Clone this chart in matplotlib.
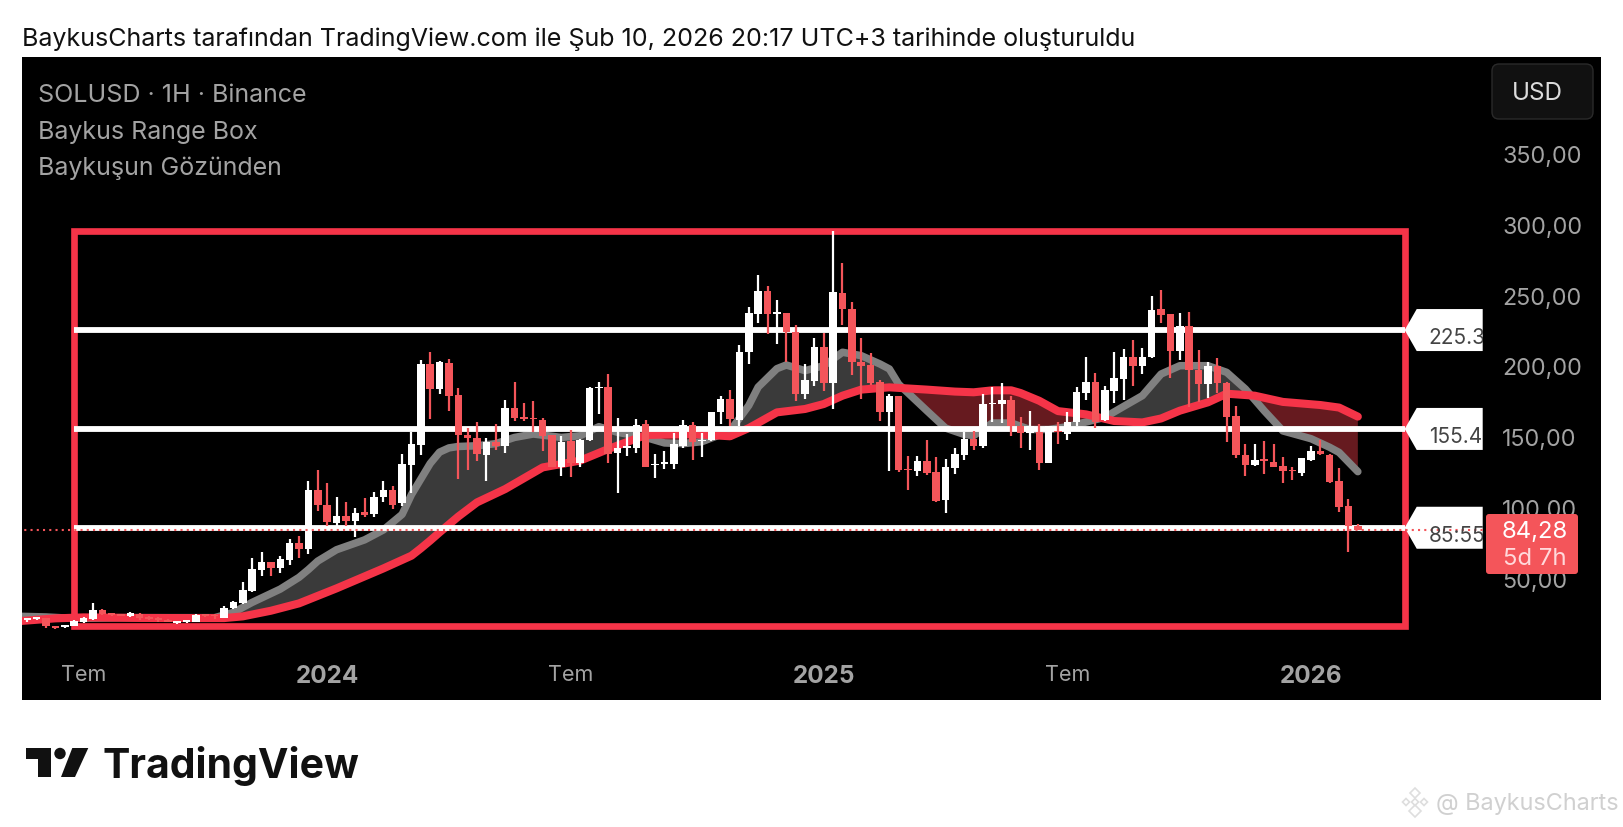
import numpy as np
import matplotlib
matplotlib.use("Agg")
import matplotlib.pyplot as plt
from matplotlib.patches import Polygon, Rectangle, FancyBboxPatch, Circle
from matplotlib.transforms import Affine2D, Bbox, ScaledTranslation, TransformedBbox

plt.rcParams['font.family'] = ['Inter', 'DejaVu Sans']

# weekly candles
opens = [20.3, 21.2, 22.0, 15.8, 15.4, 16.3, 19.1, 21.0, 27.1, 25.0, 24.3, 22.9, 24.3, 22.4, 21.5, 20.5, 18.4, 18.6, 19.1, 24.3,
         23.8, 21.7, 28.5, 32.3, 40.8, 55.9, 61.1, 57.3, 62.9, 74.5, 70.5, 112.4, 101.8, 88.9, 93.8, 90.5, 96.4, 95.0, 107.0, 112.0,
         103.0, 129.9, 144.0, 201.5, 183.6, 202.0, 179.4, 151.1, 149.0, 137.2, 146.1, 143.1, 169.9, 163.6, 163.3, 161.9, 151.1, 128.5, 146.6, 131.3,
         147.3, 184.1, 185.0, 138.4, 142.1, 142.1, 158.6, 129.6, 130.8, 130.8, 143.5, 158.1, 146.8, 147.3, 167.1, 176.5, 161.9, 209.6, 236.9, 252.9,
         236.9, 237.4, 223.7, 179.9, 189.3, 213.3, 187.9, 251.5, 240.2, 203.0, 200.8, 188.4, 167.6, 178.9, 127.1, 125.7, 132.8, 124.7, 105.4, 127.8,
         137.0, 148.3, 143.6, 172.8, 173.0, 175.9, 157.7, 152.5, 152.9, 131.3, 153.9, 151.8, 160.5, 180.8, 188.8, 161.4, 182.4, 190.9, 206.0, 200.1,
         206.0, 239.9, 236.4, 210.4, 228.3, 196.8, 187.1, 199.6, 187.8, 164.3, 136.9, 130.1, 133.9, 132.2, 129.4, 126.6, 124.4, 133.4, 139.5, 136.9,
         118.6, 100.7, 87.0]
highs = [21.5, 22.2, 22.0, 15.8, 17.0, 20.5, 22.4, 32.3, 28.1, 25.3, 24.6, 25.7, 25.2, 22.9, 22.4, 21.0, 19.4, 20.6, 24.3, 24.8,
         24.3, 30.4, 33.7, 46.9, 63.9, 68.1, 61.5, 65.8, 77.6, 79.4, 118.3, 126.1, 117.1, 107.2, 103.5, 99.2, 106.3, 110.5, 118.6, 114.8,
         137.4, 153.4, 204.3, 210.0, 203.4, 204.8, 184.5, 155.8, 160.0, 148.7, 158.6, 175.6, 188.8, 173.7, 175.1, 162.9, 151.1, 150.6, 154.8, 148.3,
         185.0, 188.3, 194.0, 163.3, 151.5, 162.4, 161.9, 137.4, 139.8, 152.5, 161.9, 160.0, 152.5, 167.6, 178.9, 183.1, 214.7, 241.6, 264.2, 256.7,
         246.8, 237.4, 228.9, 201.5, 219.5, 223.2, 295.3, 272.7, 244.9, 219.9, 209.1, 189.8, 180.3, 178.9, 136.5, 136.0, 147.4, 135.6, 134.2, 142.2,
         153.0, 153.9, 180.1, 184.8, 187.9, 178.9, 163.9, 168.3, 158.8, 157.7, 160.0, 167.6, 184.8, 206.0, 194.9, 185.9, 209.5, 211.9, 218.0, 212.8,
         249.6, 253.8, 236.4, 237.3, 237.8, 210.9, 202.9, 205.3, 188.8, 171.8, 144.5, 144.5, 146.8, 144.9, 135.5, 128.5, 135.1, 143.1, 147.8, 137.4,
         128.0, 105.9, 88.4]
lows = [18.6, 20.5, 14.4, 13.9, 15.0, 16.0, 18.2, 20.5, 23.8, 23.5, 23.0, 22.2, 20.5, 20.5, 19.1, 18.6, 17.5, 18.2, 18.6, 22.4,
        21.0, 21.5, 28.0, 31.8, 39.9, 51.6, 51.6, 53.5, 59.2, 63.9, 67.2, 97.6, 87.0, 85.8, 86.5, 79.2, 93.1, 93.1, 103.5, 98.8,
        100.7, 110.1, 136.9, 162.4, 179.8, 168.0, 120.0, 126.6, 132.7, 118.8, 140.2, 138.4, 161.0, 161.0, 153.4, 139.8, 128.5, 122.3, 121.4, 128.5,
        146.8, 166.2, 131.3, 110.1, 136.5, 138.4, 128.5, 120.5, 127.0, 127.0, 142.1, 133.6, 135.5, 146.8, 159.1, 157.7, 157.7, 201.3, 230.3, 222.3,
        215.2, 203.0, 175.4, 176.6, 186.0, 182.5, 169.5, 228.9, 193.5, 176.6, 186.5, 161.0, 125.9, 125.2, 112.5, 121.9, 122.9, 104.0, 96.0, 123.8,
        133.7, 140.8, 141.7, 160.1, 159.6, 150.7, 141.7, 140.7, 126.6, 131.3, 144.9, 147.8, 157.7, 176.0, 156.3, 161.2, 173.7, 176.0, 185.9, 194.4,
        205.5, 230.2, 191.6, 204.3, 170.6, 174.6, 177.5, 180.8, 146.4, 135.1, 121.9, 128.9, 123.5, 128.2, 117.1, 119.5, 122.3, 132.9, 136.9, 117.1,
        96.9, 68.2, 84.28]
closes = [21.5, 22.2, 15.8, 14.9, 17.0, 19.6, 21.5, 27.1, 24.3, 23.8, 23.4, 25.0, 22.0, 21.0, 20.1, 19.1, 19.4, 20.1, 23.8, 23.4,
          22.9, 28.8, 32.8, 41.3, 56.3, 61.1, 57.3, 63.2, 74.5, 70.2, 112.4, 101.6, 89.3, 93.8, 90.5, 95.9, 94.8, 107.2, 112.4, 101.6,
          130.3, 144.5, 201.5, 183.6, 202.9, 178.9, 151.1, 148.7, 137.6, 145.9, 143.3, 169.9, 163.1, 162.2, 162.4, 150.6, 128.5, 146.4, 131.3, 147.8,
          184.3, 185.0, 137.6, 141.7, 143.1, 158.4, 128.5, 130.3, 131.8, 144.5, 158.1, 145.9, 147.8, 167.1, 176.3, 162.4, 210.0, 237.4, 252.9, 236.7,
          237.8, 223.7, 180.1, 189.8, 213.3, 187.9, 252.0, 240.2, 202.5, 200.1, 187.9, 167.6, 178.9, 126.2, 126.2, 132.8, 124.3, 104.7, 128.3, 137.7,
          148.3, 143.6, 173.3, 173.7, 175.9, 157.7, 152.5, 157.7, 131.3, 157.7, 152.9, 160.5, 181.2, 188.8, 160.5, 182.6, 191.1, 206.0, 200.1, 206.4,
          239.7, 236.1, 210.7, 228.3, 196.8, 187.4, 200.1, 187.8, 164.0, 136.9, 130.1, 133.6, 132.9, 128.7, 125.9, 125.6, 134.6, 139.5, 137.4, 118.1,
          99.9, 87.0, 84.28]

grey_idx = [-1, 2, 4, 6, 10, 14, 18, 20, 22, 24, 27, 29, 30, 31, 33, 36, 38, 40, 41, 42, 43, 44, 45, 46, 48, 50, 52, 54, 57, 59, 61, 63,
            66, 68, 70, 72, 75, 76, 77, 78, 80, 81, 83, 85, 87, 89, 91, 92, 93, 96, 98, 100, 101, 103, 105, 107, 109, 111, 115, 117, 119,
            121, 123, 126, 128, 130, 132, 134, 137, 139, 140, 142]
grey_ma = [23.0, 22.5, 21.8, 21.5, 22.0, 22.0, 22.0, 22.0, 25.7, 32.8, 42.2, 50.5, 56.0, 62.0, 70.0, 77.0, 84.0, 95.0, 109.0, 120.0, 131.0, 139.0,
           142.0, 143.0, 143.5, 145.0, 149.4, 151.8, 149.4, 150.6, 157.0, 153.0, 149.4, 145.5, 145.0, 146.4, 154.0, 163.0, 172.0, 185.0, 198.0, 200.6,
           196.6, 200.1, 209.6, 207.2, 201.3, 197.8, 187.0, 168.3, 156.0, 151.5, 150.7, 159.6, 159.6, 155.0, 155.0, 157.0, 163.6, 171.3, 178.9,
           194.2, 200.1, 200.1, 195.4, 183.6, 168.3, 154.0, 148.5, 142.4, 138.8, 125.2]
red_idx = [-1, 3, 6, 12, 18, 21, 23, 26, 29, 33, 38, 41, 42, 43, 44, 46, 48, 51, 55, 59, 62, 66, 71, 75, 77, 80, 83, 85, 87, 89, 92, 96, 99, 101, 103,
           105, 106, 108, 110, 113, 116, 119, 121, 123, 126, 128, 131, 134, 138, 140, 142]
red_ma = [19.5, 21.5, 22.2, 21.8, 21.7, 21.7, 22.9, 26.9, 32.1, 42.7, 56.8, 65.8, 71.0, 76.5, 82.3, 93.5, 103.5, 112.9, 128.2, 133.0, 141.2, 151.1, 151.8, 150.2, 156.0,
          167.1, 169.5, 173.0, 178.9, 183.2, 184.8, 183.2, 181.8, 181.3, 182.7, 182.7, 180.8, 175.3, 168.0, 165.7, 161.0, 160.0, 162.8, 168.3, 174.2,
          180.3, 178.9, 174.5, 172.3, 170.5, 164.1]

levels = [225.3, 155.4, 85.55]
level_labels = ['225.30', '155.40', '85:55']
box_left, box_right = 5, 147
box_low, box_high = 16, 295.3
last_price = 84.28

y_ticks = [50, 100, 150, 200, 250, 300, 350]
y_tick_labels = ['50,00', '100,00', '150,00', '200,00', '250,00', '300,00', '350,00']
x_ticks = [6, 32, 58, 85, 111, 137]
x_tick_labels = ['Tem', '2024', 'Tem', '2025', 'Tem', '2026']

RED = '#f4555a'
BOX_RED = '#f53448'
TXT = '#a3a3a3'
INK = '#111111'

W, H = 1623, 828
fig = plt.figure(figsize=(W / 100, H / 100), dpi=100, facecolor='white')
ax = fig.add_axes([22 / W, 1 - 701 / H, (1601 - 22) / W, (701 - 58) / H], facecolor='black')
ax.set_xlim(-0.566, 167.95)
ax.set_ylim(-36.2, 418.3)
for s in ax.spines.values():
    s.set_visible(False)

# moving averages and the cloud between them
xg = np.linspace(21, 142, 1500)
gy = np.interp(xg, grey_idx, grey_ma)
ry = np.interp(xg, red_idx, red_ma)
ax.fill_between(xg, gy, ry, where=gy >= ry, interpolate=True, color='#3a3a3a', lw=0, zorder=1)
ax.fill_between(xg, gy, ry, where=gy < ry, interpolate=True, color='#661a1f', lw=0, zorder=1)
ax.plot(grey_idx, grey_ma, color='#808080', lw=5.4, solid_capstyle='round', solid_joinstyle='round', zorder=2)
ax.plot(red_idx, red_ma, color=BOX_RED, lw=5.8, solid_capstyle='round', solid_joinstyle='round', zorder=3)

# range box and levels
ax.add_patch(Rectangle((box_left, box_low), box_right - box_left, box_high - box_low,
                       fill=False, ec=BOX_RED, lw=4.8, joinstyle='miter', zorder=3.5))
ax.hlines(levels, box_left, box_right, color='white', lw=4.2, zorder=4)

# candles
idx = np.arange(len(opens))
o, h, l, c = map(np.array, (opens, highs, lows, closes))
cols = ['white' if b >= a else RED for a, b in zip(opens, closes)]
ax.vlines(idx, l, h, colors=cols, lw=1.6, zorder=6)
ax.bar(idx, np.abs(c - o), bottom=np.minimum(o, c), width=0.8, color=cols, lw=0, zorder=6)

# tags on the right of the box, their text is cut at the right edge
tag = [(0, 0), (12, -21), (16, -21), (78, -21), (78, 21), (16, 21), (12, 21)]
for lev, lab in zip(levels, level_labels):
    off = ScaledTranslation(box_right, lev, ax.transData)
    tr = Affine2D().scale(1, 1) + off
    p = Polygon(tag, closed=True, fc='white', ec='none', transform=tr, zorder=8, clip_on=False)
    ax.add_patch(p)
    t = ax.annotate(lab, (box_right, lev), xytext=(24 * 0.72, -7 * 0.72), textcoords='offset points',
                    ha='left', va='center', color='#444444', fontsize=15, zorder=9)
    t.set_clip_on(True)
    t.set_clip_box(TransformedBbox(Bbox([[0, -21], [78, 21]]), tr))

ax.hlines(last_price, -1, 155.7, color=RED, lw=1.5, linestyles=(0, (1, 2)), zorder=8.5)

# ticks, drawn inside the panel
ax.set_yticks(y_ticks)
ax.set_yticklabels(y_tick_labels, color=TXT, fontsize=16.8)
ax.yaxis.tick_right()
ax.tick_params(axis='y', length=0, pad=-71)
ax.set_xticks(x_ticks)
ax.set_xticklabels(x_tick_labels, color=TXT, fontsize=15.5)
for lab in ax.get_xticklabels():
    if lab.get_text() != 'Tem':
        lab.set_fontweight('bold')
        lab.set_fontsize(17.5)
ax.tick_params(axis='x', length=0, pad=-26)

# overlay in pixels for the chrome around the chart
ov = fig.add_axes([0, 0, 1, 1], facecolor='none')
ov.set_xlim(0, W)
ov.set_ylim(H, 0)
ov.axis('off')

ov.text(22, 39, 'BaykusCharts tarafından TradingView.com ile Şub 10, 2026 20:17 UTC+3 tarihinde oluşturuldu',
        color=INK, fontsize=18.06, va='center', ha='left')
for y, s in zip([96, 132, 168], ['SOLUSD · 1H · Binance', 'Baykus Range Box', 'Baykuşun Gözünden']):
    ov.text(38, y, s, color=TXT, fontsize=18, va='center', ha='left')

ov.add_patch(FancyBboxPatch((1492, 65), 101, 55, boxstyle='round,pad=0,rounding_size=7', fc='#111111', ec='#2a2a2a', lw=1))
ov.text(1537, 93, 'USD', color='#dcdcdc', fontsize=17.5, ha='center', va='center')

ov.add_patch(FancyBboxPatch((1486, 515), 92, 60, boxstyle='round,pad=0,rounding_size=3', fc=RED, ec='none'))
ov.text(1535, 532, '84,28', color='white', fontsize=17.2, ha='center', va='center')
ov.text(1535, 559, '5d 7h', color='#ffd9db', fontsize=17.2, ha='center', va='center')

# logo
ov.add_patch(Polygon([(25.7, 749), (51, 749), (51, 778), (37.7, 778), (37.7, 760), (25.7, 760)], fc=INK, ec='none'))
ov.add_patch(Circle((60, 754.5), 5.7, fc=INK, ec='none'))
ov.add_patch(Polygon([(72.3, 749), (88.3, 749), (75, 778), (61, 778)], fc=INK, ec='none'))
ov.text(103, 778, 'TradingView', color=INK, fontsize=29.5, fontweight='bold', ha='left', va='baseline')

# watermark
cx, cy = 1415, 803
ws = '#dedede'
for dx, dy, r in [(0, -9, 5), (-9, 0, 3.5), (9, 0, 3.5), (0, 0, 3.5), (0, 9, 6)]:
    ov.add_patch(Polygon([(cx + dx, cy + dy - r), (cx + dx + r, cy + dy), (cx + dx, cy + dy + r), (cx + dx - r, cy + dy)],
                         fill=False, ec=ws, lw=1.2))
ov.text(1436, 804, '@ BaykusCharts', color='#d0d0d0', fontsize=16.9, ha='left', va='center')

fig.savefig('out.png', dpi=100, facecolor='white')
